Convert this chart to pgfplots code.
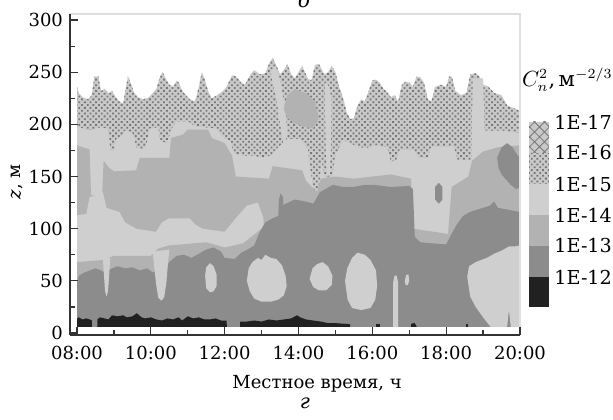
\documentclass[border=0pt]{standalone}
\usepackage{fontspec}
\setmainfont{DejaVu Serif}
\usepackage{pgfplots}
\pgfplotsset{compat=1.18}
\usetikzlibrary{patterns,patterns.meta}
\definecolor{cLight}{gray}{0.81}
\definecolor{cMed}{gray}{0.70}
\definecolor{cDark}{gray}{0.55}
\definecolor{cBlack}{gray}{0.13}
\definecolor{cXbg}{gray}{0.79}
\definecolor{cXdot}{gray}{0.47}
\begin{document}
\begin{tikzpicture}[font=\fontsize{9}{10.8}\selectfont]
\useasboundingbox (-35pt,-42pt) rectangle (271.5pt,167.5pt);
\begin{axis}[at={(0,0)}, anchor=south west, scale only axis, width=225pt, height=160.5pt,
 xmin=7.81, xmax=20, ymin=-1.9, ymax=305.8,
 axis lines*=left, axis line style={line width=0.8pt, color=black!80},
 tick style={line width=0.6pt, color=black!80},
 tick align=inside, major tick length=4pt, minor tick length=2.5pt,
 xtick={8,10,...,20}, xticklabels={08:00,10:00,12:00,14:00,16:00,18:00,20:00},
 minor xtick={9,11,...,19},
 ytick={0,50,...,300}, minor ytick={25,75,...,275},
 xticklabel style={yshift=-2pt},
 /pgf/number format/assume math mode=true,
 xlabel={Местное время, ч}, ylabel={\textit{z}, м},
 xlabel style={at={(axis description cs:0.549,-0.152)}, anchor=center},
 ylabel style={at={(axis description cs:-0.118,0.477)}, anchor=center},
 clip=false, axis on top,
]
% crosshatch layer (top)
\addplot[draw=none, fill=cXbg, postaction={pattern={Dots[angle=45,distance=2pt,radius=0.65pt]}, pattern color=cXdot}] coordinates {
(8,6)(8.00,236)(8.05,230)(8.15,226)(8.30,224)(8.40,228)(8.47,246)(8.58,246)(8.65,232)(8.75,234)(8.85,230)(8.95,232)(9.05,226)(9.15,222)(9.25,220)(9.32,235)(9.38,246)(9.45,240)(9.55,230)(9.65,226)(9.80,224)(9.95,226)(10.05,230)(10.15,234)(10.25,246)(10.32,250)(10.40,244)(10.50,238)(10.60,236)(10.70,242)(10.76,240)(10.85,232)(10.95,228)(11.05,224)(11.20,222)(11.30,236)(11.38,250)(11.45,244)(11.55,232)(11.65,225)(11.80,228)(11.95,232)(12.05,236)(12.20,247)(12.30,246)(12.45,240)(12.55,238)(12.70,248)(12.80,252)(12.95,248)(13.10,249)(13.20,258)(13.30,264)(13.38,258)(13.50,248)(13.60,252)(13.70,258)(13.80,248)(13.90,244)(14.00,250)(14.10,256)(14.25,244)(14.35,242)(14.45,257)(14.55,258)(14.70,248)(14.80,250)(14.90,256)(15.00,250)(15.10,236)(15.20,226)(15.30,212)(15.40,205)(15.50,206)(15.60,218)(15.70,224)(15.80,222)(15.90,232)(16.00,242)(16.10,243)(16.20,240)(16.30,234)(16.40,231)(16.50,226)(16.60,228)(16.70,222)(16.80,238)(16.90,241)(17.00,240)(17.10,236)(17.20,246)(17.30,245)(17.40,240)(17.50,224)(17.60,222)(17.70,236)(17.85,238)(18.00,236)(18.08,246)(18.16,245)(18.25,232)(18.40,228)(18.55,230)(18.65,248)(18.80,249)(18.90,246)(19.00,238)(19.15,236)(19.30,230)(19.50,228)(19.65,218)(19.80,216)(20.00,213)(20,6)} -- cycle;
% light band 1
\addplot[draw=none, fill=cLight] coordinates {
(8,6)(8.0,198)(8.16,196)(8.3,194)(8.45,195)(8.6,197)(8.84,196)(8.9,176)(9.0,174)(9.06,186)(9.2,188)(9.3,194)(9.5,192)(9.6,178)(9.75,176)(9.87,178)(9.96,196)(10.2,197)(10.25,184)(10.45,182)(10.55,195)(10.7,203)(11.0,203)(11.2,198)(11.5,197)(11.76,196)(11.9,190)(12.0,186)(12.15,184)(12.25,172)(12.5,170)(12.8,170)(13.0,168)(13.25,170)(13.45,178)(13.7,186)(14.05,186)(14.25,176)(14.35,150)(14.45,128)(14.55,135)(14.62,165)(14.7,150)(14.9,147)(15.0,170)(15.2,185)(15.5,180)(15.8,177)(16.1,180)(16.4,178)(16.5,164)(16.65,166)(16.75,176)(17.1,176)(17.25,168)(17.5,168)(17.6,179)(18.2,179)(18.3,166)(18.68,166)(18.72,244)(19.0,244)(19.04,194)(19.5,194)(20,192)(20,6)} -- cycle;
% light streaks inside crosshatch
\addplot[draw=none, fill=cLight] coordinates {(13.25,250)(13.35,256)(13.45,250)(13.55,235)(13.65,210)(13.7,190)(13.6,180)(13.5,200)(13.4,225)(13.3,240)} -- cycle;
\addplot[draw=none, fill=cLight] coordinates {(14.72,240)(14.8,238)(14.9,225)(14.88,180)(14.85,152)(14.78,150)(14.74,175)(14.72,210)} -- cycle;
% medium band
\addplot[draw=none, fill=cMed] coordinates {
(8,6)(8.0,180)(8.16,178)(8.34,176)(8.38,132)(8.68,132)(8.72,165)(8.88,158)(9.0,155)(9.6,156)(9.7,168)(10.5,168)(10.55,187)(10.86,190)(11.0,195)(11.55,195)(11.65,187)(12.0,182)(12.2,170)(12.3,150)(13.2,148)(13.3,160)(14.1,156)(14.2,146)(14.5,135)(14.6,148)(15.0,150)(15.5,148)(16.0,150)(16.5,152)(17.05,148)(17.1,100)(18.05,95)(18.15,140)(18.6,150)(18.7,165)(19.0,174)(19.4,178)(20.0,180)(20,6)} -- cycle;
% medium patch in crosshatch
\addplot[draw=none, fill=cMed] coordinates {(13.6,215)(13.7,228)(13.9,234)(14.2,230)(14.45,222)(14.55,205)(14.4,196)(14.1,198)(13.85,202)(13.7,206)} -- cycle;
% light band 2
\addplot[draw=none, fill=cLight] coordinates {
(8,6)(8.0,113)(8.25,114)(8.34,130)(8.7,135)(8.8,120)(9.15,116)(9.3,106)(9.6,100)(10.14,97)(10.3,106)(10.5,110)(11.05,110)(11.2,104)(11.4,100)(12.0,97)(12.3,110)(12.6,122)(12.9,125)(13.05,110)(13.1,60)(20,60)(20,6)} -- cycle;
% thin medium band
\addplot[draw=none, fill=cMed] coordinates {
(8,6)(8.0,68)(8.7,70)(9.0,74)(10.0,74)(10.2,81)(10.5,84)(11.5,87)(12.0,82)(12.5,86)(13.0,100)(13.1,60)(20,60)(20,6)} -- cycle;
% dark layer
\addplot[draw=none, fill=cDark] coordinates {
(8,6)(8.0,48)(8.05,55)(8.2,58)(8.35,60)(8.5,62)(8.65,60)(8.75,58)(8.95,62)(9.1,64)(9.3,62)(9.5,63)(9.7,60)(9.9,62)(10.05,58)(10.15,60)(10.4,62)(10.5,68)(10.7,74)(10.9,75)(11.1,72)(11.3,76)(11.5,80)(11.7,82)(11.9,78)(12.0,72)(12.27,71)(12.45,77)(12.62,80)(12.8,84)(12.95,97)(13.1,106)(13.3,110)(13.5,113)(13.6,123)(13.9,128)(14.2,126)(14.4,124)(14.58,135)(14.93,142)(15.2,140)(15.47,140)(15.8,142)(16.05,142)(16.5,140)(17.0,141)(17.1,138)(17.15,92)(17.3,87)(17.6,86)(18.0,85)(18.1,92)(18.27,103)(18.45,112)(18.64,116)(19.0,120)(19.18,122)(19.3,126)(19.4,120)(19.7,118)(20.0,116)(20,6)} -- cycle;
% dark patches
\addplot[draw=none, fill=cDark] coordinates {(19.38,168)(19.5,178)(19.65,182)(19.8,178)(19.9,172)(20,168)(20,140)(19.9,138)(19.75,142)(19.6,148)(19.5,152)(19.42,158)} -- cycle;
\addplot[draw=none, fill=cDark] coordinates {(17.7,140)(17.8,144)(17.9,140)(17.9,128)(17.8,124)(17.7,128)} -- cycle;
\addplot[draw=none, fill=cDark] coordinates {(13.45,110)(13.47,128)(13.52,134)(13.58,130)(13.6,115)} -- cycle;
% light blobs in dark
\addplot[draw=none, fill=cLight] coordinates {(8.70,72)(8.73,55)(8.76,40)(8.80,35)(8.84,40)(8.87,55)(8.90,72)} -- cycle;
\addplot[draw=none, fill=cLight] coordinates {(10.05,78)(10.1,60)(10.15,45)(10.2,34)(10.28,31)(10.36,34)(10.42,48)(10.46,65)(10.5,80)} -- cycle;
\addplot[draw=none, fill=cLight] coordinates {(11.47,55)(11.5,63)(11.6,67)(11.7,64)(11.78,56)(11.78,45)(11.7,40)(11.6,39)(11.5,43)} -- cycle;
\addplot[draw=none, fill=cLight] coordinates {(12.6,50)(12.65,62)(12.75,68)(12.9,72)(13.0,70)(13.1,75)(13.25,72)(13.4,71)(13.55,65)(13.65,55)(13.68,45)(13.6,36)(13.45,32)(13.25,30)(13.0,30)(12.8,33)(12.68,40)} -- cycle;
\addplot[draw=none, fill=cLight] coordinates {(14.3,52)(14.38,62)(14.5,66)(14.65,68)(14.8,64)(14.92,55)(14.9,46)(14.75,41)(14.55,41)(14.4,44)} -- cycle;
\addplot[draw=none, fill=cLight] coordinates {(15.26,50)(15.32,62)(15.45,72)(15.6,77)(15.8,75)(15.95,70)(16.1,60)(16.13,45)(16.08,32)(15.95,24)(15.7,22)(15.45,24)(15.33,32)} -- cycle;
\addplot[draw=none, fill=cLight] coordinates {(16.56,6)(16.56,48)(16.6,55)(16.66,55)(16.7,48)(16.7,6)} -- cycle;
\addplot[draw=none, fill=cLight] coordinates {(16.88,50)(16.92,56)(16.98,56)(17.0,50)(16.96,46)(16.9,46)} -- cycle;
\addplot[draw=none, fill=cLight] coordinates {(18.57,54)(18.62,64)(18.8,68)(18.95,70)(19.1,72)(19.3,76)(19.5,79)(19.7,83)(19.85,83)(20.0,84)(20,6)(19.75,6)(19.7,22)(19.65,6)(19.2,6)(19.0,15)(18.8,25)(18.65,35)} -- cycle;
% black near-ground strip
\addplot[draw=none, fill=cBlack] coordinates {(8.0,6)(8.0,14)(8.05,15)(8.15,13)(8.25,14)(8.35,13)(8.4,12)(8.4,6)} -- cycle;
\addplot[draw=none, fill=cBlack] coordinates {(8.55,6)(8.55,13)(8.62,15)(8.75,14)(8.85,13)(8.95,17)(9.1,16)(9.25,17)(9.35,15)(9.5,16)(9.62,19)(9.75,15)(9.85,14)(10.0,15)(10.15,13)(10.3,12)(10.45,14)(10.6,13)(10.75,15)(10.85,12)(11.0,16)(11.15,14)(11.3,15)(11.45,13)(11.6,13)(11.75,14)(11.9,12)(12.05,12)(12.06,6)} -- cycle;
\addplot[draw=none, fill=cBlack] coordinates {(12.42,6)(12.42,11)(12.6,11)(12.8,12)(13.0,11)(13.2,13)(13.4,12)(13.6,13)(13.8,14)(13.96,17)(14.05,15)(14.2,13)(14.4,12)(14.6,11)(14.8,9.5)(15.0,9.5)(15.2,9)(15.4,8.5)(15.4,6)} -- cycle;
\addplot[draw=none, fill=cBlack] coordinates {(16.1,6)(16.1,9)(16.2,9)(16.2,6)} -- cycle;
\addplot[draw=none, fill=cBlack] coordinates {(17.05,6)(17.05,9)(17.15,9.5)(17.2,6)} -- cycle;
\addplot[draw=none, fill=cBlack] coordinates {(18.55,6)(18.55,9)(18.6,9)(18.6,6)} -- cycle;
% faint top/right frame
\draw[gray!25, line width=0.6pt] (axis description cs:0,1) -- (axis description cs:1,1) -- (axis description cs:1,0);
% legend (colour key)
\fill[cXbg] (axis description cs:1.02,0.567) rectangle (axis description cs:1.0644,0.6636);
\fill[pattern={Hatch[angle=45,distance=3.5pt,line width=0.4pt]}, pattern color=cXdot] (axis description cs:1.02,0.567) rectangle (axis description cs:1.0644,0.6636);
\fill[cXbg] (axis description cs:1.02,0.4704) rectangle (axis description cs:1.0644,0.567);
\fill[pattern={Dots[angle=45,distance=2pt,radius=0.65pt]}, pattern color=cXdot] (axis description cs:1.02,0.4704) rectangle (axis description cs:1.0644,0.567);
\fill[cLight] (axis description cs:1.02,0.3738) rectangle (axis description cs:1.0644,0.4704);
\fill[cMed] (axis description cs:1.02,0.2773) rectangle (axis description cs:1.0644,0.3738);
\fill[cDark] (axis description cs:1.02,0.1807) rectangle (axis description cs:1.0644,0.2773);
\fill[cBlack] (axis description cs:1.02,0.0872) rectangle (axis description cs:1.0644,0.1807);
\begin{scope}[font=\fontsize{9.6}{11}\selectfont]
\node[anchor=west, inner sep=0pt] at (axis description cs:1.0756,0.6636) {1E-17};
\node[anchor=west, inner sep=0pt] at (axis description cs:1.0756,0.567) {1E-16};
\node[anchor=west, inner sep=0pt] at (axis description cs:1.0756,0.4704) {1E-15};
\node[anchor=west, inner sep=0pt] at (axis description cs:1.0756,0.3738) {1E-14};
\node[anchor=west, inner sep=0pt] at (axis description cs:1.0756,0.2773) {1E-13};
\node[anchor=west, inner sep=0pt] at (axis description cs:1.0756,0.1807) {1E-12};
\end{scope}
\node[anchor=east, inner sep=0pt, font=\fontsize{10.5}{12}\selectfont] at (axis description cs:1.2064,0.795) {$C_n^2$,\,м$^{-2/3}$};
\node[anchor=base, font=\itshape] at (axis description cs:0.52,1.019) {б};
\node[font=\itshape] at (axis description cs:0.522,-0.212) {г};
\end{axis}
\end{tikzpicture}
\end{document}
